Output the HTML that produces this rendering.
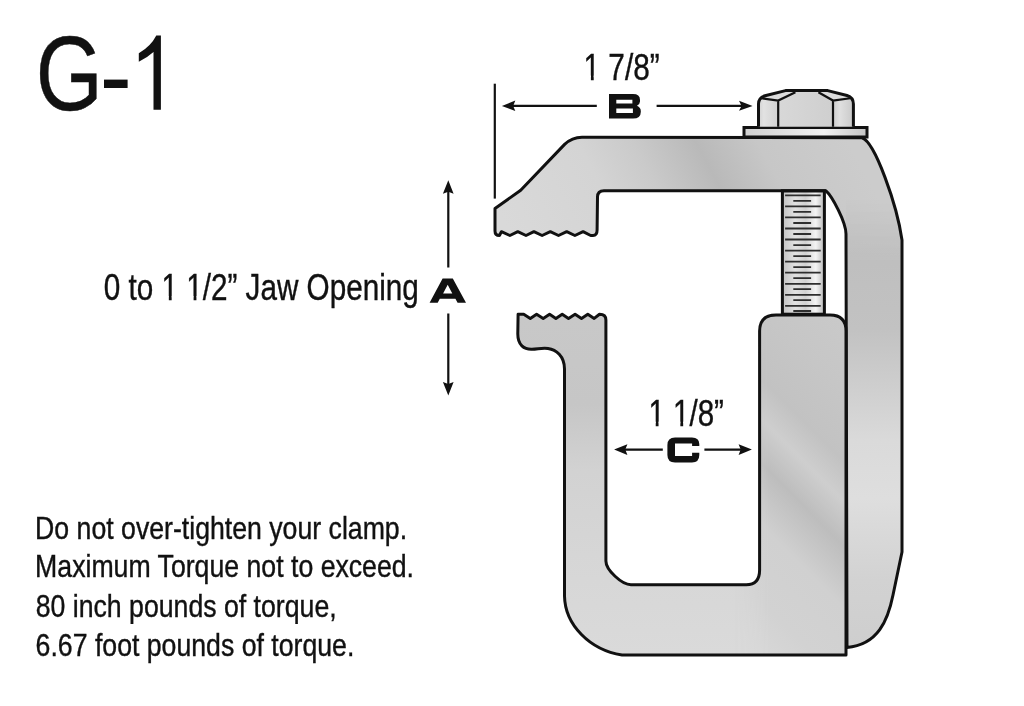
<!DOCTYPE html>
<html><head><meta charset="utf-8">
<style>
html,body{margin:0;padding:0;background:#fff;width:1024px;height:706px;overflow:hidden}
svg{display:block}
text{font-family:"Liberation Sans",sans-serif;fill:#111;stroke:#111;stroke-width:0.4px;opacity:0.999}
</style></head><body>
<svg width="1024" height="706" viewBox="0 0 1024 706">
<defs>
  <clipPath id="cF"><path d="M495,208.5 L520.7,190.2 L564.6,144.4 Q572,137.2 582,137.2 L862,137.8 C875,142 897,205 902,240 L902,552 L893,595 C888,620 878,645 847,647.4 L846,234 C846,222 832,196 826,190.8 L604,190.8 Q597.5,191 597.5,197 L597.1,230 Q597.1,235.5 593,235.5 L590.7,235.5 L583.1,231.7 L574.9,235.5 L566.7,231.7 L558.5,235.5 L550.3,231.7 L542.1,235.5 L533.9,231.7 L526,235.5 L517.8,231.7 L509.9,235.5 L501.4,231.7 L499.4,235.5 Q495,235.5 495,231 Z"/></clipPath>
  <clipPath id="cU"><path d="M518.1,314.3 L523.7,314.3 L530.3,318.4 L536.6,314.3 L543.2,318.4 L549.6,314.3 L555.9,318.4 L562.2,314.3 L568.5,318.4 L575.1,314.3 L581.5,318.4 L587.8,314.3 L594.2,318.4 L599.5,314.3 Q605.9,314.3 605.9,320 L605.9,561 C605.9,570 622,584.8 631,584.8 L746.2,584.8 Q759.6,584.8 759.6,570 L759.6,331 Q759.6,315 776,315 L830,315 Q846,315 846,331 L846,655 L622,655 C590,650 565,625 564.5,596 L564.5,369 C564.5,356 556,349.5 548,348.4 C542,347.6 538,349 532,349.2 C524,349.5 517.8,345 517.8,334 Z"/></clipPath>
  <linearGradient id="gTop" x1="485" y1="290" x2="935" y2="50" gradientUnits="userSpaceOnUse">
    <stop offset="0.0952" stop-color="#d9d9d9"/><stop offset="0.297" stop-color="#d4d4d4"/><stop offset="0.3922" stop-color="#cacaca"/><stop offset="0.5012" stop-color="#b9b9b9"/><stop offset="0.6084" stop-color="#c7c7c7"/><stop offset="0.7664" stop-color="#cccccc"/>
  </linearGradient>
  <linearGradient id="gR" x1="0" y1="240" x2="0" y2="650" gradientUnits="userSpaceOnUse">
    <stop offset="0" stop-color="#bebebe"/><stop offset="0.22" stop-color="#c2c2c2"/><stop offset="0.49" stop-color="#dadada"/><stop offset="0.63" stop-color="#dedede"/><stop offset="0.83" stop-color="#d2d2d2"/><stop offset="1" stop-color="#cecece"/>
  </linearGradient>
  <linearGradient id="gRfade" x1="0" y1="200" x2="0" y2="260" gradientUnits="userSpaceOnUse">
    <stop offset="0" stop-color="#fff" stop-opacity="0"/><stop offset="1" stop-color="#fff" stop-opacity="1"/>
  </linearGradient>
  <linearGradient id="gPadFade" x1="735" y1="0" x2="768" y2="0" gradientUnits="userSpaceOnUse">
    <stop offset="0" stop-color="#fff" stop-opacity="0"/><stop offset="1" stop-color="#fff" stop-opacity="1"/>
  </linearGradient>
  <mask id="mPad"><rect x="700" y="300" width="160" height="370" fill="url(#gPadFade)"/></mask>
  <mask id="mR"><rect x="840" y="150" width="70" height="520" fill="url(#gRfade)"/></mask>
  <linearGradient id="gU" x1="0" y1="320" x2="0" y2="655" gradientUnits="userSpaceOnUse">
    <stop offset="0" stop-color="#c8c8c8"/><stop offset="0.25" stop-color="#c6c6c6"/><stop offset="0.45" stop-color="#d2d2d2"/><stop offset="0.7" stop-color="#d6d6d6"/><stop offset="1" stop-color="#dadada"/>
  </linearGradient>
  <linearGradient id="gBot" x1="600" y1="0" x2="760" y2="0" gradientUnits="userSpaceOnUse">
    <stop offset="0" stop-color="#dadada"/><stop offset="0.6" stop-color="#d6d6d6"/><stop offset="1" stop-color="#cdcdcd"/>
  </linearGradient>
  <linearGradient id="gPad" x1="914" y1="374" x2="694" y2="594" gradientUnits="userSpaceOnUse">
    <stop offset="0" stop-color="#cacaca"/><stop offset="0.2" stop-color="#c6c6c6"/><stop offset="0.36" stop-color="#c2c2c2"/><stop offset="0.45" stop-color="#cecece"/><stop offset="0.55" stop-color="#bdbdbd"/><stop offset="0.69" stop-color="#d0d0d0"/><stop offset="0.864" stop-color="#d2d2d2"/><stop offset="1" stop-color="#d8d8d8"/>
  </linearGradient>
  <linearGradient id="gScrew" x1="783" y1="0" x2="824" y2="0" gradientUnits="userSpaceOnUse">
    <stop offset="0" stop-color="#c4c4c4"/><stop offset="0.3" stop-color="#e2e2e2"/><stop offset="0.55" stop-color="#d2d2d2"/><stop offset="0.8" stop-color="#f4f4f4"/><stop offset="1" stop-color="#bcbcbc"/>
  </linearGradient>
  <linearGradient id="gNut" x1="758" y1="0" x2="854" y2="0" gradientUnits="userSpaceOnUse">
    <stop offset="0" stop-color="#d0d0d0"/><stop offset="0.06" stop-color="#e2e2e2"/><stop offset="0.2" stop-color="#d2d2d2"/><stop offset="0.21" stop-color="#d8d8d8"/><stop offset="0.78" stop-color="#cfcfcf"/><stop offset="0.79" stop-color="#d0d0d0"/><stop offset="0.85" stop-color="#e0e0e0"/><stop offset="1" stop-color="#c8c8c8"/>
  </linearGradient>
  <linearGradient id="gWasher" x1="744" y1="0" x2="867" y2="0" gradientUnits="userSpaceOnUse">
    <stop offset="0" stop-color="#d0d0d0"/><stop offset="0.65" stop-color="#f0f0f0"/><stop offset="1" stop-color="#c4c4c4"/>
  </linearGradient>
</defs>

<!-- frame fill -->
<path d="M495,208.5 L520.7,190.2 L564.6,144.4 Q572,137.2 582,137.2 L862,137.8 C875,142 897,205 902,240 L902,552 L893,595 C888,620 878,645 847,647.4 L846,234 C846,222 832,196 826,190.8 L604,190.8 Q597.5,191 597.5,197 L597.1,230 Q597.1,235.5 593,235.5 L590.7,235.5 L583.1,231.7 L574.9,235.5 L566.7,231.7 L558.5,235.5 L550.3,231.7 L542.1,235.5 L533.9,231.7 L526,235.5 L517.8,231.7 L509.9,235.5 L501.4,231.7 L499.4,235.5 Q495,235.5 495,231 Z" fill="url(#gTop)"/>
<g clip-path="url(#cF)"><rect x="846" y="150" width="60" height="510" fill="url(#gR)" mask="url(#mR)"/></g>
<!-- screw -->
<rect x="782.4" y="190.8" width="42" height="123.4" fill="url(#gScrew)" stroke="#111" stroke-width="3"/>
<g stroke="#2e2e2e" stroke-width="1.8">
  <path d="M785.1,195.3H820.7M785.1,206.3H820.7M785.1,217.4H820.7M785.1,228.5H820.7M785.1,239.5H820.7M785.1,250.6H820.7M785.1,261.7H820.7M785.1,272.7H820.7M785.1,283.8H820.7M785.1,294.8H820.7M785.1,305.8H820.7"/>
  <path d="M793.3,200.9H811.1M793.3,211.9H811.1M793.3,223H811.1M793.3,234H811.1M793.3,245.1H811.1M793.3,256.1H811.1M793.3,267.1H811.1M793.3,278.1H811.1M793.3,289.1H811.1M793.3,300.1H811.1M793.3,311H811.1"/>
</g>
<path d="M495,208.5 L520.7,190.2 L564.6,144.4 Q572,137.2 582,137.2 L862,137.8 C875,142 897,205 902,240 L902,552 L893,595 C888,620 878,645 847,647.4 L846,234 C846,222 832,196 826,190.8 L604,190.8 Q597.5,191 597.5,197 L597.1,230 Q597.1,235.5 593,235.5 L590.7,235.5 L583.1,231.7 L574.9,235.5 L566.7,231.7 L558.5,235.5 L550.3,231.7 L542.1,235.5 L533.9,231.7 L526,235.5 L517.8,231.7 L509.9,235.5 L501.4,231.7 L499.4,235.5 Q495,235.5 495,231 Z" fill="none" stroke="#111" stroke-width="3" stroke-linejoin="round"/>

<!-- U piece -->
<path d="M518.1,314.3 L523.7,314.3 L530.3,318.4 L536.6,314.3 L543.2,318.4 L549.6,314.3 L555.9,318.4 L562.2,314.3 L568.5,318.4 L575.1,314.3 L581.5,318.4 L587.8,314.3 L594.2,318.4 L599.5,314.3 Q605.9,314.3 605.9,320 L605.9,561 C605.9,570 622,584.8 631,584.8 L746.2,584.8 Q759.6,584.8 759.6,570 L759.6,331 Q759.6,315 776,315 L830,315 Q846,315 846,331 L846,655 L622,655 C590,650 565,625 564.5,596 L564.5,369 C564.5,356 556,349.5 548,348.4 C542,347.6 538,349 532,349.2 C524,349.5 517.8,345 517.8,334 Z" fill="url(#gU)"/>
<g clip-path="url(#cU)">
  <rect x="730" y="310" width="120" height="350" fill="url(#gPad)" mask="url(#mPad)"/>
</g>
<path d="M518.1,314.3 L523.7,314.3 L530.3,318.4 L536.6,314.3 L543.2,318.4 L549.6,314.3 L555.9,318.4 L562.2,314.3 L568.5,318.4 L575.1,314.3 L581.5,318.4 L587.8,314.3 L594.2,318.4 L599.5,314.3 Q605.9,314.3 605.9,320 L605.9,561 C605.9,570 622,584.8 631,584.8 L746.2,584.8 Q759.6,584.8 759.6,570 L759.6,331 Q759.6,315 776,315 L830,315 Q846,315 846,331 L846,655 L622,655 C590,650 565,625 564.5,596 L564.5,369 C564.5,356 556,349.5 548,348.4 C542,347.6 538,349 532,349.2 C524,349.5 517.8,345 517.8,334 Z" fill="none" stroke="#111" stroke-width="3" stroke-linejoin="round"/>

<!-- washer -->
<rect x="744" y="127.5" width="123" height="9.5" fill="url(#gWasher)" stroke="#111" stroke-width="3"/>
<!-- nut -->
<path d="M758.5,126.8 L758.5,104 Q758.5,97.5 766,95.5 L785.5,90.6 L827.7,90.6 L847,95.5 Q853.4,97.5 853.4,104 L853.4,126.8 Z" fill="url(#gNut)"/>
<path d="M762,97 L778.2,100.5 L795.4,92.2 L818.4,92.2 L833,100.5 L850,97 L848.1,95.9 L827.7,90.6 L785.5,90.6 L765,95.9 Z" fill="#dcdcdc"/>
<path d="M760,98 L778.2,100.5 L795.4,92.2 M778.2,100.5 L778.2,126.8 M852,98 L833,100.5 L818.4,92.2 M833,100.5 L833,126.8" fill="none" stroke="#111" stroke-width="2.2"/>
<path d="M758.5,126.8 L758.5,104 Q758.5,97.5 766,95.5 L785.5,90.6 L827.7,90.6 L847,95.5 Q853.4,97.5 853.4,104 L853.4,126.8" fill="none" stroke="#111" stroke-width="3" stroke-linejoin="round"/>

<!-- dimension lines -->
<g stroke="#111" stroke-width="2.2" fill="none">
  <path d="M494.8,83.7 V198.6"/>
  <path d="M510,105.9 H596.8 M656.6,105.9 H745"/>
  <path d="M448.3,188 V267.4 M448.3,313.6 V388"/>
  <path d="M622,449.6 H662.8 M704.4,449.6 H745"/>
</g>
<g fill="#111">
  <path d="M501.9,105.9 L515.3,100.6 L513.2,105.9 L515.3,111 Z"/>
  <path d="M752.6,105.9 L739,100.8 L741.6,105.9 L739,110.8 Z"/>
  <path d="M448.3,180.2 L453.6,193.8 L448.3,191.7 L442.9,193.8 Z"/>
  <path d="M448.3,395.5 L453.6,381.9 L448.3,384 L442.9,381.9 Z"/>
  <path d="M614.1,449.6 L627.4,444.3 L625.3,449.6 L627.4,454.9 Z"/>
  <path d="M751.9,449.6 L738.6,444.3 L740.7,449.6 L738.6,454.9 Z"/>
  <path fill-rule="evenodd" d="M609,94.1 H633 Q640,94.1 640,100 V101.5 Q640,104 637,105.8 Q640.8,107.5 640.8,111 V112 Q640.8,118.6 633,118.6 H609 Z M616.3,99.7 H632.4 V103.5 H616.3 Z M616.3,108.6 H632.9 V113 H616.3 Z"/>
  <path fill-rule="evenodd" d="M442.6,278.4 H452.8 L466,302.8 H457.6 L455.4,298.8 H439.8 L437.7,302.8 H429.6 Z M447.7,284.7 L452.3,293.4 H443.1 Z"/>
  <path d="M675,437.4 H692 Q699.3,437.4 699.3,444 V446 H692.1 V443.5 H675 V456 H692.1 V452.7 H699.3 V455 Q699.3,462.4 692,462.4 H675 Q667.4,462.4 667.4,455 V445 Q667.4,437.4 675,437.4 Z"/>
</g>

<!-- texts -->
<g transform="translate(35.80,109.60) scale(0.8100,1)"><text x="0" y="0" font-size="106.40">G</text></g>
<rect x="104" y="79.6" width="23.6" height="8.4" fill="#111"/>
<path d="M156.3,35.4 H160.9 V109.8 H153.5 V52.1 Q147,58 138.8,61.7 V53.2 Q151,46 156.3,35.4 Z" fill="#111"/>
<g transform="translate(583.50,79.70) scale(0.8050,1)"><text x="0" y="0" font-size="37.00">1 7/8”</text><rect x="0.74" y="-4.12" width="8.44" height="5.71" fill="#fff"/><rect x="12.69" y="-4.12" width="7.40" height="5.71" fill="#fff"/></g>
<g transform="translate(103.70,300.30) scale(0.8090,1)"><text x="0" y="0" font-size="36.70">0 to 1 1/2” Jaw Opening</text><rect x="72.14" y="-4.09" width="8.37" height="5.69" fill="#fff"/><rect x="84.00" y="-4.09" width="7.34" height="5.69" fill="#fff"/><rect x="102.75" y="-4.09" width="8.37" height="5.69" fill="#fff"/><rect x="114.61" y="-4.09" width="7.34" height="5.69" fill="#fff"/></g>
<g transform="translate(648.40,425.70) scale(0.8160,1)"><text x="0" y="0" font-size="36.20">1 1/8”</text><rect x="0.72" y="-4.04" width="8.25" height="5.64" fill="#fff"/><rect x="12.42" y="-4.04" width="7.24" height="5.64" fill="#fff"/><rect x="30.91" y="-4.04" width="8.25" height="5.64" fill="#fff"/><rect x="42.61" y="-4.04" width="7.24" height="5.64" fill="#fff"/></g>
<g transform="translate(35.10,539.20) scale(0.8310,1)"><text x="0" y="0" font-size="32.10">Do not over-tighten your clamp.</text></g>
<g transform="translate(35.10,577.40) scale(0.8310,1)"><text x="0" y="0" font-size="32.10">Maximum Torque not to exceed.</text></g>
<g transform="translate(35.70,617.00) scale(0.8310,1)"><text x="0" y="0" font-size="32.10">80 inch pounds of torque,</text></g>
<g transform="translate(35.60,656.20) scale(0.8310,1)"><text x="0" y="0" font-size="32.10">6.67 foot pounds of torque.</text></g>
</svg>
</body></html>
